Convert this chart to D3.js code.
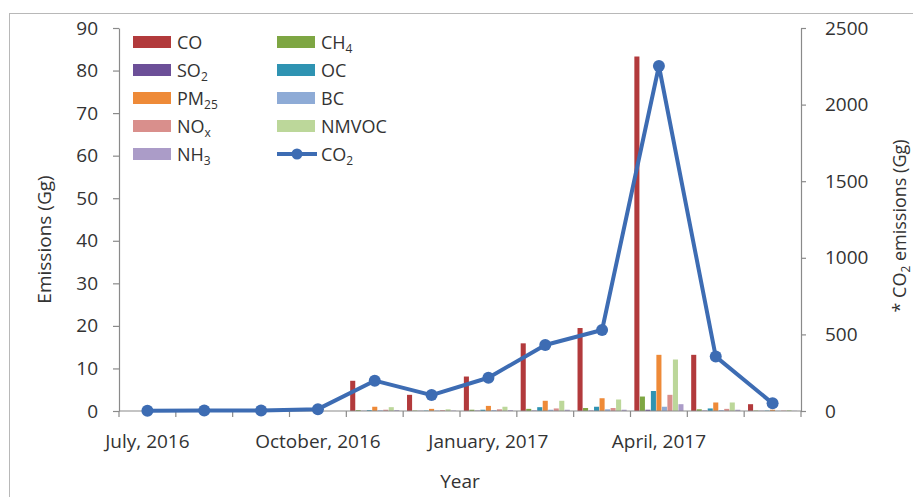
<!DOCTYPE html>
<html>
<head>
<meta charset="utf-8">
<script src="https://cdn.jsdelivr.net/npm/d3@7/dist/d3.min.js"></script>
<style>
  html, body { margin: 0; padding: 0; background: #fff; }
  svg { display: block; font-family: "Open Sans", "DejaVu Sans", sans-serif; }
</style>
</head>
<body>
<svg id="chart" width="913" height="497"></svg>
<script>
// Monthly categories (Jul 2016 – Jun 2017); every third month carries a label
const months = ["July, 2016", "August, 2016", "September, 2016", "October, 2016",
  "November, 2016", "December, 2016", "January, 2017", "February, 2017",
  "March, 2017", "April, 2017", "May, 2017", "June, 2017"];
const labelledMonths = ["July, 2016", "October, 2016", "January, 2017", "April, 2017"];

// Bar series, in cluster order (Gg)
const barSeries = ["CO", "CH4", "SO2", "OC", "PM25", "BC", "NOx", "NMVOC", "NH3"];
const CO    = [0, 0, 0, 0, 7.1, 3.8, 8.1, 15.9, 19.5, 83.3, 13.2, 1.6];
const CH4   = [0, 0, 0, 0, 0.2, 0.1, 0.3, 0.5, 0.7, 3.4, 0.4, 0.1];
const SO2   = [0, 0, 0, 0, 0.05, 0.05, 0.1, 0.1, 0.1, 0.3, 0.1, 0.05];
const OC    = [0, 0, 0, 0, 0.2, 0.1, 0.3, 0.9, 1.0, 4.7, 0.6, 0.1];
const PM25  = [0, 0, 0, 0, 1.0, 0.5, 1.2, 2.4, 3.0, 13.2, 2.0, 0.3];
const BC    = [0, 0, 0, 0, 0.15, 0.1, 0.2, 0.3, 0.4, 1.0, 0.2, 0.05];
const NOx   = [0, 0, 0, 0, 0.3, 0.2, 0.4, 0.6, 0.7, 3.8, 0.5, 0.1];
const NMVOC = [0, 0, 0, 0, 0.9, 0.4, 1.0, 2.4, 2.7, 12.1, 2.0, 0.2];
const NH3   = [0, 0, 0, 0, 0.2, 0.1, 0.2, 0.3, 0.3, 1.6, 0.3, 0.05];

// Line series on the secondary axis (Gg)
const CO2   = [2, 3, 4, 12, 198, 104, 217, 431, 529, 2252, 355, 50];

// Axis ticks
const leftTicks  = [0, 10, 20, 30, 40, 50, 60, 70, 80, 90];
const rightTicks = [0, 500, 1000, 1500, 2000, 2500];

const barValues = { CO, CH4, SO2, OC, PM25, BC, NOx, NMVOC, NH3 };
const colors = {
  CO: "#b23a3c", CH4: "#7ea643", SO2: "#6c4f98", OC: "#2f93b2", PM25: "#ee8a38",
  BC: "#8eabd6", NOx: "#d98f8c", NMVOC: "#bcd79a", NH3: "#ab9cc8", CO2: "#3d6cb3"
};

const svg = d3.select("#chart");
const plot = { left: 119, right: 801, top: 28, bottom: 411 };
const axisColor = "#8a8a8a";
const textColor = "#333";

// Outer chart frame (extends past the visible window on the right and bottom)
svg.append("rect")
  .attr("x", 9.5).attr("y", 13.5).attr("width", 1000).attr("height", 1000)
  .attr("fill", "none").attr("stroke", "#b8b8b8").attr("stroke-width", 1);

const x0 = d3.scaleBand().domain(months).range([plot.left, plot.right]).padding(0);
const x1 = d3.scaleBand().domain(barSeries).range([0, x0.bandwidth()])
  .paddingOuter(0.7).paddingInner(0.08);
const yL = d3.scaleLinear().domain([0, 90]).range([plot.bottom, plot.top]);
const yR = d3.scaleLinear().domain([0, 2500]).range([plot.bottom, plot.top]);

// Bars
const groups = svg.append("g").selectAll("g").data(months).join("g")
  .attr("transform", d => `translate(${x0(d)},0)`);
groups.selectAll("rect")
  .data((m, i) => barSeries.map(s => ({ s, v: barValues[s][i] })))
  .join("rect")
  .attr("x", d => x1(d.s))
  .attr("width", x1.bandwidth())
  .attr("y", d => yL(d.v))
  .attr("height", d => yL(0) - yL(d.v))
  .attr("fill", d => colors[d.s]);

// Axes
function styleAxis(g) {
  g.selectAll(".domain").attr("stroke", axisColor).attr("stroke-width", 1.2);
  g.selectAll(".tick line").attr("stroke", axisColor).attr("stroke-width", 1.2);
  g.selectAll("text").attr("fill", textColor).style("font-size", "19px")
    .style("font-family", "'Open Sans', sans-serif");
}

svg.append("g").attr("transform", `translate(${plot.left},0)`)
  .call(d3.axisLeft(yL).tickValues(leftTicks).tickSize(6).tickPadding(15).tickSizeOuter(0))
  .call(styleAxis);

svg.append("g").attr("transform", `translate(${plot.right},0)`)
  .call(d3.axisRight(yR).tickValues(rightTicks).tickFormat(d3.format("d"))
    .tickSize(5).tickPadding(19).tickSizeOuter(0))
  .call(styleAxis);

// Category axis: ticks on band boundaries, labels centred on the labelled months
const xAxisG = svg.append("g").attr("transform", `translate(0,${plot.bottom})`);
xAxisG.append("line").attr("x1", plot.left).attr("x2", plot.right)
  .attr("stroke", axisColor).attr("stroke-width", 1.2);
const boundaries = months.map(m => x0(m)).concat([x0.range()[1]]);
xAxisG.selectAll("line.tk").data(boundaries).join("line").attr("class", "tk")
  .attr("x1", d => d).attr("x2", d => d).attr("y1", 0).attr("y2", 6)
  .attr("stroke", axisColor).attr("stroke-width", 1.2);
xAxisG.selectAll("text").data(labelledMonths).join("text")
  .attr("x", d => x0(d) + x0.bandwidth() / 2)
  .attr("y", 37)
  .attr("text-anchor", "middle")
  .attr("fill", textColor).style("font-size", "19px")
  .text(d => d);

// CO2 line with markers
const line = d3.line()
  .x((d, i) => x0(months[i]) + x0.bandwidth() / 2)
  .y(d => yR(d));
svg.append("path").datum(CO2).attr("d", line)
  .attr("fill", "none").attr("stroke", colors.CO2).attr("stroke-width", 4)
  .attr("stroke-linejoin", "round");
svg.append("g").selectAll("circle").data(CO2).join("circle")
  .attr("cx", (d, i) => x0(months[i]) + x0.bandwidth() / 2)
  .attr("cy", d => yR(d))
  .attr("r", 6)
  .attr("fill", colors.CO2);

// Axis titles
svg.append("text")
  .attr("transform", `translate(51,${(plot.top + plot.bottom) / 2 + 20}) rotate(-90)`)
  .attr("text-anchor", "middle").attr("fill", textColor).style("font-size", "19px")
  .text("Emissions (Gg)");

svg.append("text")
  .attr("x", (plot.left + plot.right) / 2).attr("y", 488)
  .attr("text-anchor", "middle").attr("fill", textColor).style("font-size", "19px")
  .text("Year");

const rTitle = svg.append("text")
  .attr("transform", `translate(906,226) rotate(-90)`)
  .attr("text-anchor", "middle").attr("fill", textColor).style("font-size", "18px");
rTitle.append("tspan").text("* CO");
rTitle.append("tspan").attr("dy", 4).style("font-size", "12px").text("2");
rTitle.append("tspan").attr("dy", -4).text(" emissions (Gg)");

// Legend (two columns)
const legendItems = [
  { key: "CO",    parts: [["CO", false]] },
  { key: "SO2",   parts: [["SO", false], ["2", true]] },
  { key: "PM25",  parts: [["PM", false], ["25", true]] },
  { key: "NOx",   parts: [["NO", false], ["x", true]] },
  { key: "NH3",   parts: [["NH", false], ["3", true]] },
  { key: "CH4",   parts: [["CH", false], ["4", true]] },
  { key: "OC",    parts: [["OC", false]] },
  { key: "BC",    parts: [["BC", false]] },
  { key: "NMVOC", parts: [["NMVOC", false]] },
  { key: "CO2",   parts: [["CO", false], ["2", true]], line: true }
];
const legend = svg.append("g");
legendItems.forEach((it, i) => {
  const col = Math.floor(i / 5), row = i % 5;
  const sx = col === 0 ? 133 : 277;
  const cy = 42 + row * 28;
  const g = legend.append("g");
  if (it.line) {
    g.append("line").attr("x1", sx).attr("x2", sx + 40).attr("y1", cy).attr("y2", cy)
      .attr("stroke", colors.CO2).attr("stroke-width", 4);
    g.append("circle").attr("cx", sx + 20).attr("cy", cy).attr("r", 5.5).attr("fill", colors.CO2);
  } else {
    g.append("rect").attr("x", sx).attr("y", cy - 6).attr("width", 38).attr("height", 12)
      .attr("fill", colors[it.key]);
  }
  const t = g.append("text").attr("x", sx + 44).attr("y", cy + 7)
    .attr("fill", textColor).style("font-size", "18px");
  let shifted = false;
  it.parts.forEach(([txt, sub]) => {
    const ts = t.append("tspan").text(txt);
    if (sub) { ts.attr("dy", 4).style("font-size", "12px"); shifted = true; }
    else if (shifted) { ts.attr("dy", -4); shifted = false; }
  });
});
</script>
</body>
</html>
